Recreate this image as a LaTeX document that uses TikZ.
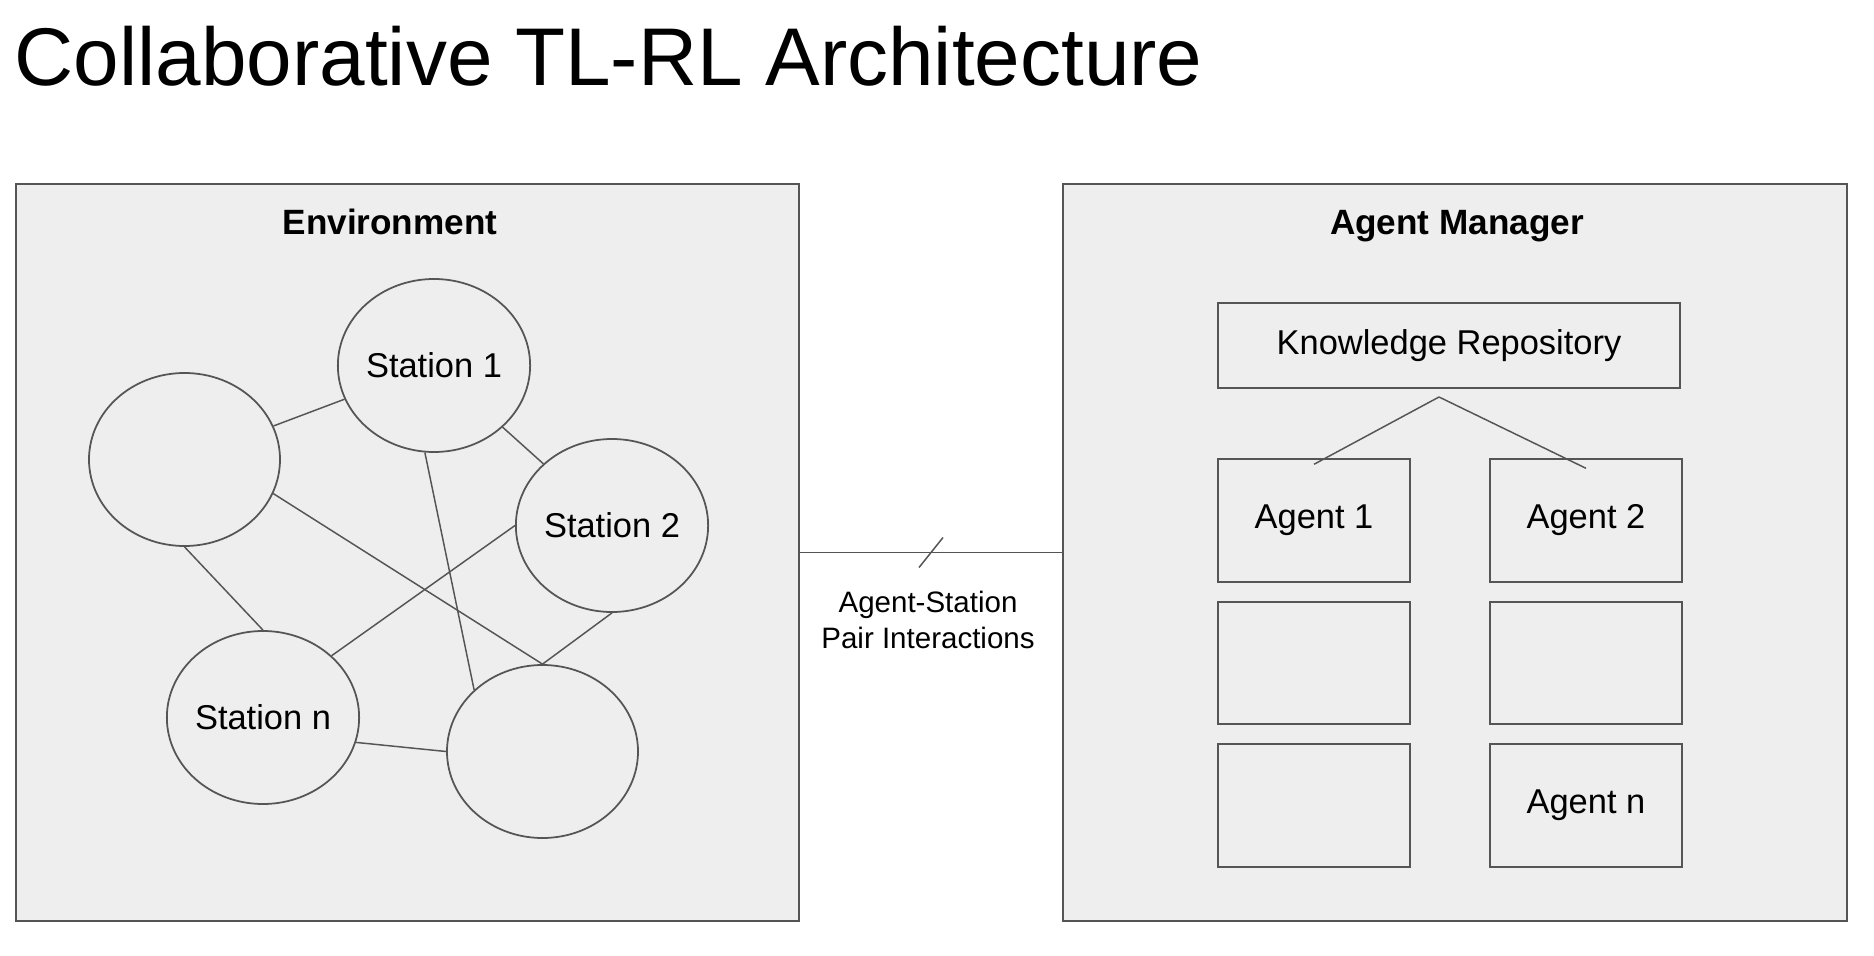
\documentclass[tikz,border=0pt]{standalone}
\usepackage{fontspec}
\setmainfont{Liberation Sans}
\usepackage{tikz}
\usetikzlibrary{shapes.geometric,% ellipses for the stations
positioning}%                    places the agent boxes next to each other
\definecolor{panelgray}{HTML}{EEEEEE}
\definecolor{linegray}{HTML}{555555}
\tikzset{every node/.style={font=\fontsize{9.8}{12}\selectfont},
  panel/.style={draw=linegray, line width=0.55pt, fill=panelgray, inner sep=0pt},
  station/.style={ellipse, draw=linegray, line width=0.5pt, minimum width=1.91cm, minimum height=1.73cm, inner sep=0pt},
  agentbox/.style={draw=linegray, line width=0.55pt, minimum width=1.915cm, minimum height=1.225cm, inner sep=0pt},
  link/.style={linegray, line width=0.42pt},
  heading/.style={font=\fontsize{10}{12}\selectfont\bfseries, anchor=base, inner sep=0pt}}

\begin{document}
\begin{tikzpicture}[x=1cm, y=-1cm]
    \useasboundingbox (0,0) rectangle (18.74,9.56);
    \node[anchor=base west, inner sep=0pt, font=\fontsize{23.3}{28}\selectfont] (title) at (0.14,0.86) {Collaborative TL-RL Architecture};
    % the two panels
    \node[panel, minimum width=7.834cm, minimum height=7.37cm] (env) at (4.073,5.525) {};
    \node[panel, minimum width=7.84cm, minimum height=7.37cm] (mgr) at (14.55,5.525) {};
    \node[heading] (envlbl) at (3.90,2.35) {Environment};
    \node[heading] (mgrlbl) at (14.57,2.35) {Agent Manager};
    % stations
    \node[station] (st1) at (4.34,3.655) {Station 1};
    \node[station] (stL) at (1.845,4.595) {};
    \node[station] (st2) at (6.12,5.255) {Station 2};
    \node[station] (stn) at (2.63,7.175) {Station n};
    \node[station] (stB) at (5.425,7.515) {};
    \draw[link] (stL) -- (st1);
    \draw[link] (st1) -- (st2);
    \draw[link] (st1.264) -- (stB.138);
    \draw[link] (stL.-21) -- (stB.north);
    \draw[link] (stL.south) -- (stn.north);
    \draw[link] (st2.west) -- (stn.42);
    \draw[link] (st2.south) -- (stB.north);
    \draw[link] (stn.-15) -- (stB.west);
    % between the panels
    \draw[link] (env.east) -- coordinate[midway] (mid) (mgr.west);
    \draw[link] ([shift={(-0.12,0.15)}]mid) -- ([shift={(0.12,-0.15)}]mid);
    \node[font=\fontsize{8.4}{10}\selectfont, align=center, anchor=base] (pairlbl) at (9.28,6.48) {Agent-Station\\Pair Interactions};
    % repository and agents
    \node[agentbox, minimum width=4.62cm, minimum height=0.85cm] (kr) at (14.49,3.455) {Knowledge Repository};
    \node[agentbox] (ag11) at (13.14,5.205) {Agent 1};
    \node[agentbox, right=0.785cm of ag11] (ag12) {Agent 2};
    \node[agentbox, below=0.18cm of ag11] (ag21) {};
    \node[agentbox, below=0.18cm of ag12] (ag22) {};
    \node[agentbox, below=0.18cm of ag21] (ag31) {};
    \node[agentbox, below=0.18cm of ag22] (ag32) {Agent n};
    \coordinate (fork) at (14.39,3.97);
    \draw[link] (fork) -- ([yshift=-0.06cm]ag11.north);
    \draw[link] (fork) -- ([yshift=-0.10cm]ag12.north);
\end{tikzpicture}
\end{document}
